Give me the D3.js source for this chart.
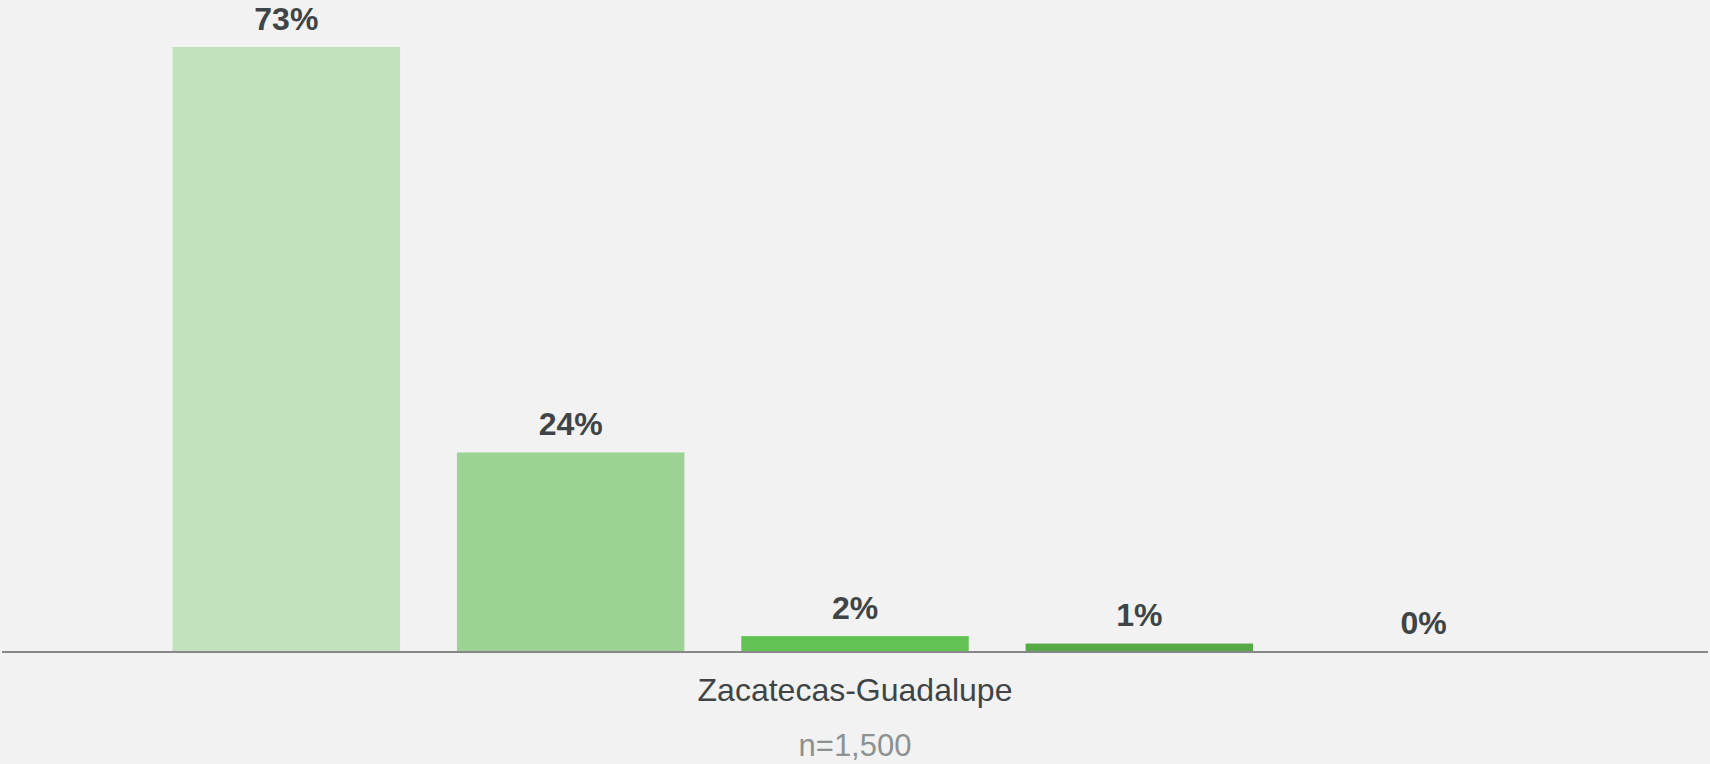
<!DOCTYPE html>
<html>
<head>
<meta charset="utf-8">
<script type="text/javascript" src="https://cdn.jsdelivr.net/npm/d3@7/dist/d3.min.js"></script>
<style type="text/css">
  body { margin: 0; background: #f2f2f2; }
  svg { display: block; font-family: Arial, "Liberation Sans", sans-serif; }
</style>
</head>
<body>
<div id="chart"></div>
<script type="text/javascript">

var category = "Zacatecas-Guadalupe";
var sampleLabel = "n=1,500";
var seriesKeys = ["s1", "s2", "s3", "s4", "s5"];
var seriesValues = [73, 24, 1.8, 0.9, 0];
var seriesColors = ["#c2e1bd", "#9dd295", "#63c254", "#57a947", "#3f8f34"];

var width = 1710, height = 764;
var baseY = 651;

var svg = d3.select("#chart").append("svg")
    .attr("width", width)
    .attr("height", height);

svg.append("rect")
    .attr("width", width)
    .attr("height", height)
    .attr("fill", "#f2f2f2");

var x = d3.scaleBand()
    .domain(seriesKeys)
    .range([2, 1708])
    .paddingInner(0.2)
    .paddingOuter(0.6);

var y = d3.scaleLinear()
    .domain([0, 73])
    .range([baseY, 47]);

var data = seriesKeys.map(function (k, i) {
    return { key: k, value: seriesValues[i], color: seriesColors[i] };
});

svg.selectAll("rect.bar")
    .data(data)
    .enter()
    .append("rect")
        .attr("class", "bar")
        .attr("x", function (d) { return x(d.key); })
        .attr("y", function (d) { return y(d.value); })
        .attr("width", x.bandwidth())
        .attr("height", function (d) { return y(0) - y(d.value); })
        .attr("fill", function (d) { return d.color; });

// axis line along the baseline
svg.append("line")
    .attr("x1", 2)
    .attr("x2", 1708)
    .attr("y1", baseY + 1)
    .attr("y2", baseY + 1)
    .attr("stroke", "#878787")
    .attr("stroke-width", 2);

svg.selectAll("text.val")
    .data(data)
    .enter()
    .append("text")
        .attr("class", "val")
        .attr("x", function (d) { return x(d.key) + x.bandwidth() / 2; })
        .attr("y", function (d) { return y(d.value) - 17.5; })
        .attr("text-anchor", "middle")
        .attr("font-size", "32px")
        .attr("font-weight", "bold")
        .attr("fill", "#3f4446")
        .text(function (d) { return Math.round(d.value) + "%"; });

svg.append("text")
    .attr("x", width / 2)
    .attr("y", 700.5)
    .attr("text-anchor", "middle")
    .attr("font-size", "32px")
    .attr("fill", "#3f4446")
    .text(category);

svg.append("text")
    .attr("x", width / 2)
    .attr("y", 756)
    .attr("text-anchor", "middle")
    .attr("font-size", "31px")
    .attr("fill", "#8c9191")
    .text(sampleLabel);

</script>
</body>
</html>
